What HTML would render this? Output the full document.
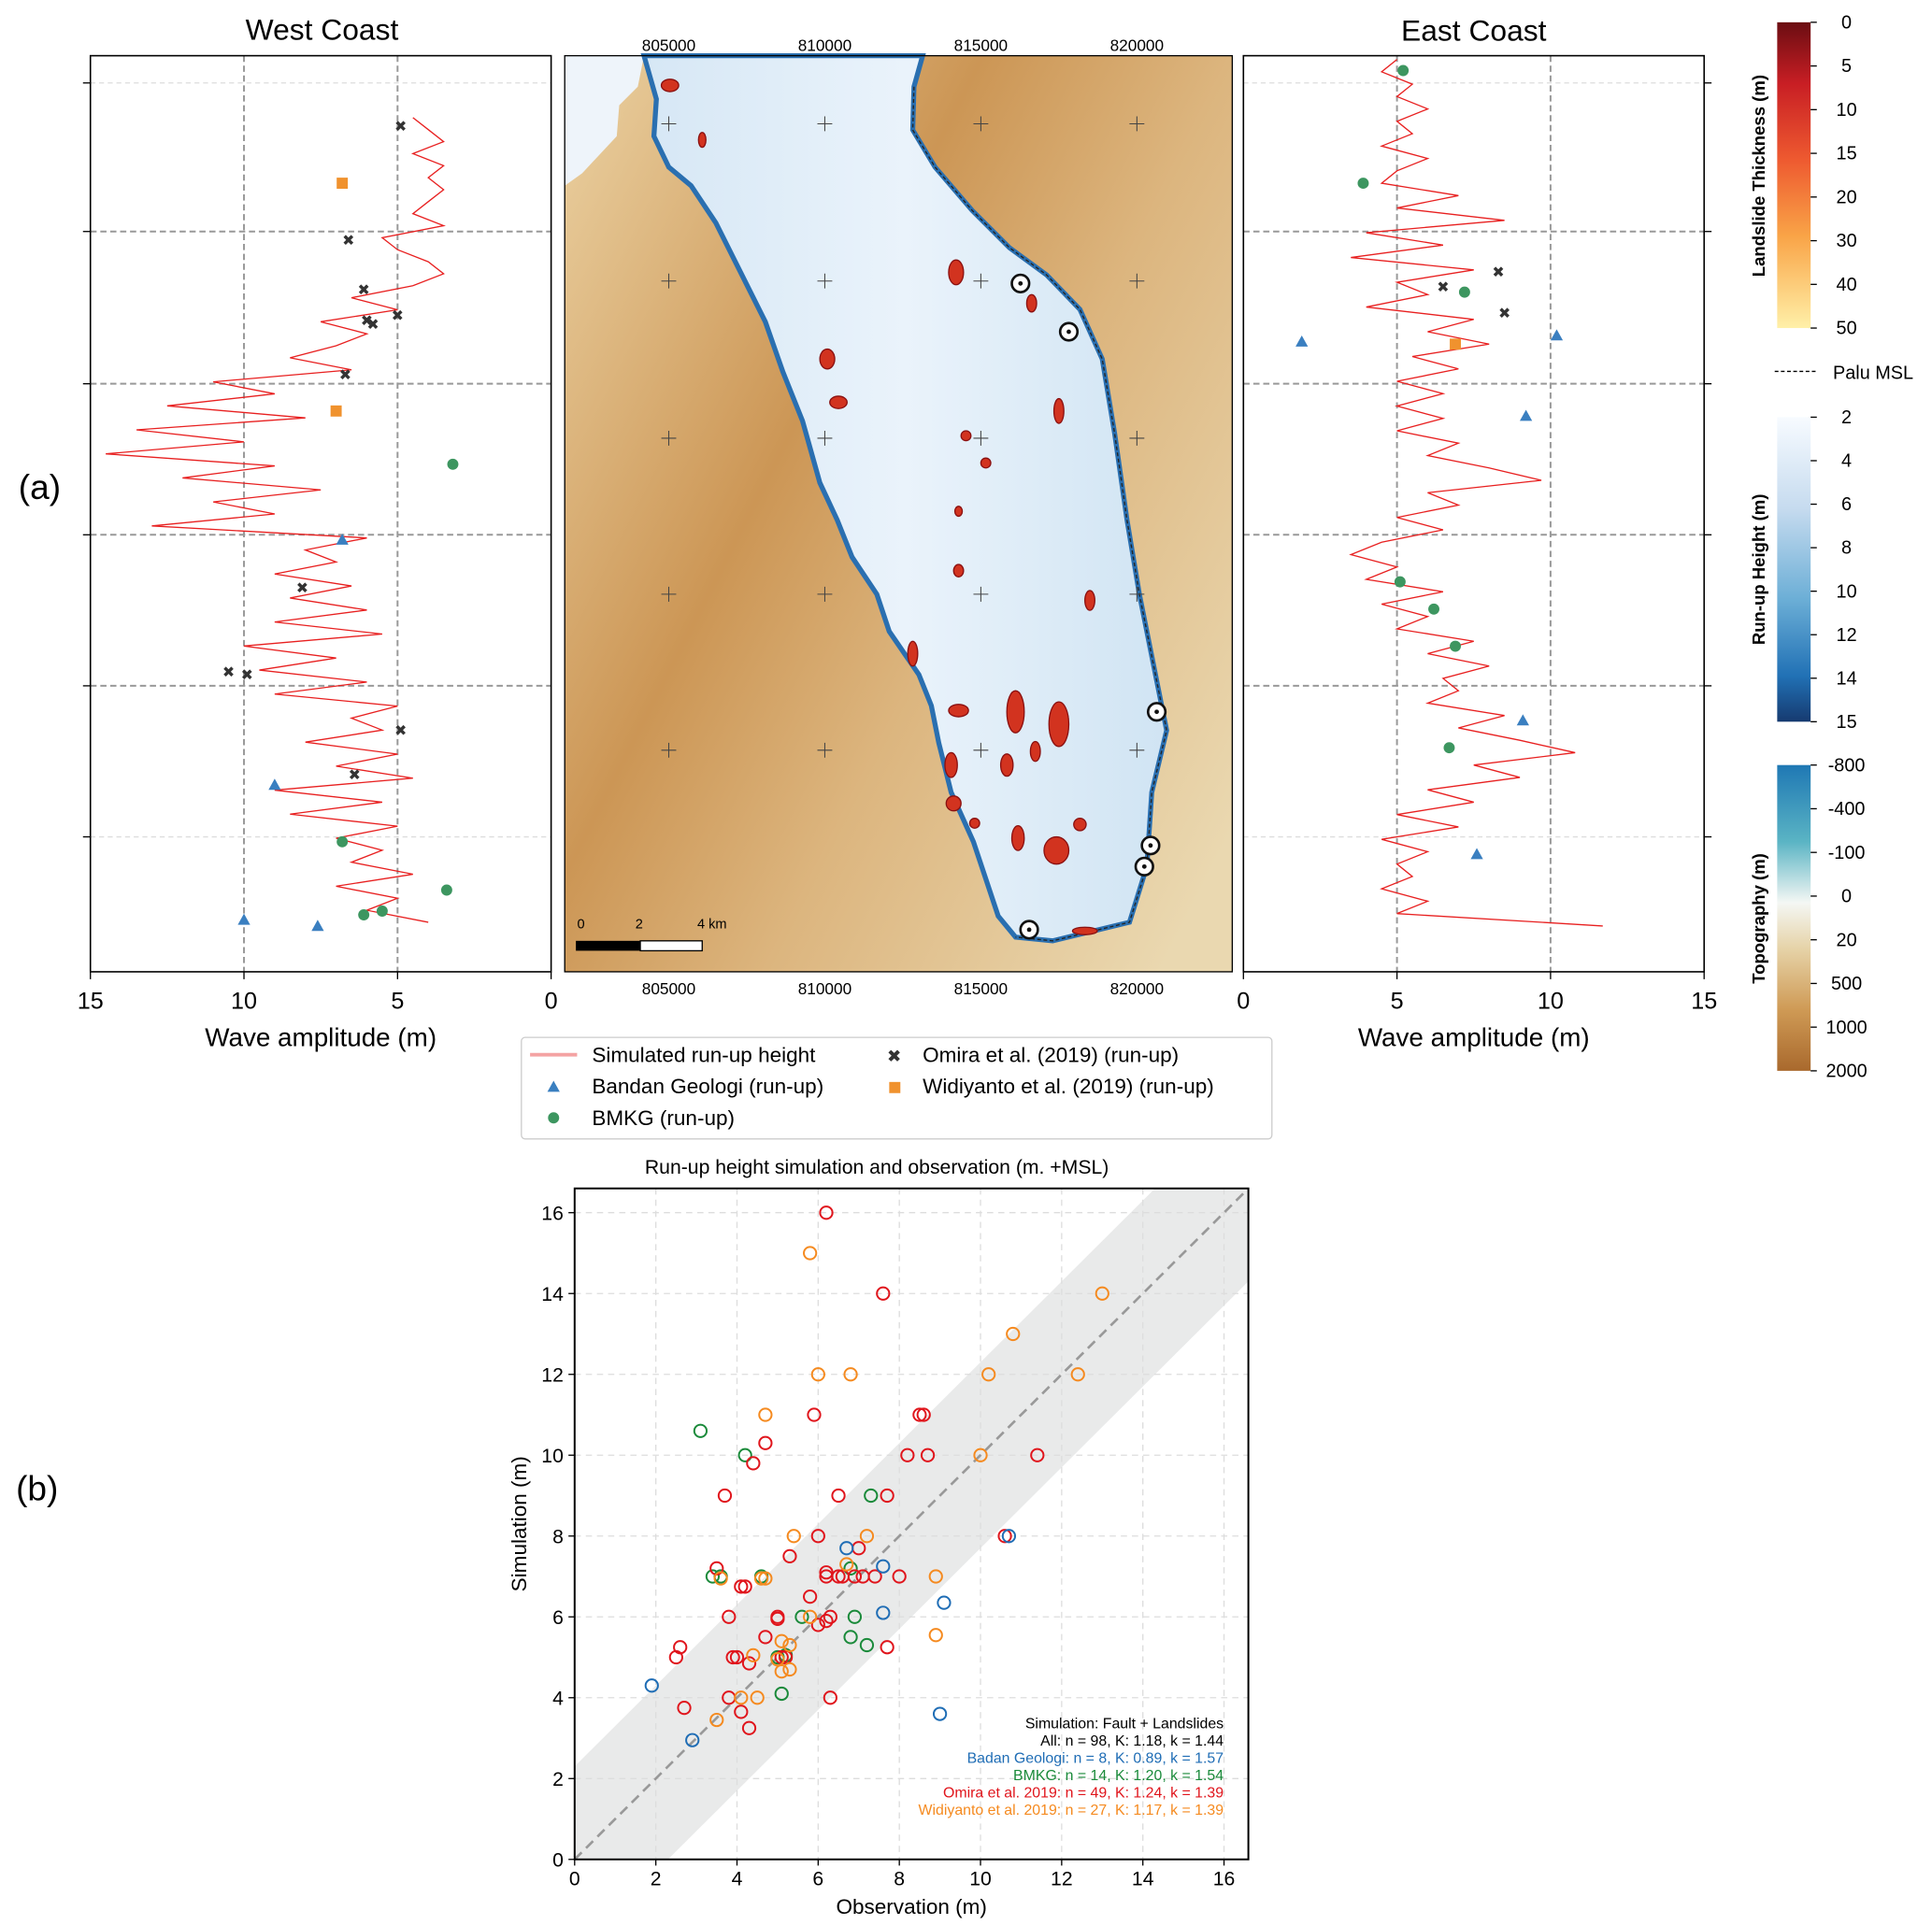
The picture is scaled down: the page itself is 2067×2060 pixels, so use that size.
<!DOCTYPE html>
<html><head><meta charset="utf-8"><style>
html,body{margin:0;padding:0;background:#fff;}
svg{display:block;font-family:"Liberation Sans","DejaVu Sans",sans-serif;}
</style></head><body>
<svg id="fig" width="2067" height="2060" viewBox="0 0 1560 1555" preserveAspectRatio="none" xmlns="http://www.w3.org/2000/svg">
<defs>
<linearGradient id="gLand" x1="0" y1="0" x2="0" y2="1"><stop offset="0" stop-color="#6b0d12"/><stop offset="0.2" stop-color="#c81e24"/><stop offset="0.45" stop-color="#ee5a30"/><stop offset="0.7" stop-color="#f9a447"/><stop offset="1" stop-color="#fff0a8"/></linearGradient>
<linearGradient id="gRun" x1="0" y1="0" x2="0" y2="1"><stop offset="0" stop-color="#f7fbff"/><stop offset="0.3" stop-color="#c6dbef"/><stop offset="0.6" stop-color="#6baed6"/><stop offset="0.85" stop-color="#2171b5"/><stop offset="1" stop-color="#163a70"/></linearGradient>
<linearGradient id="gTopo" x1="0" y1="0" x2="0" y2="1"><stop offset="0" stop-color="#1f78b4"/><stop offset="0.25" stop-color="#5ab4c4"/><stop offset="0.45" stop-color="#f4f7f4"/><stop offset="0.6" stop-color="#e6d3a8"/><stop offset="0.8" stop-color="#cf9a55"/><stop offset="1" stop-color="#a9692d"/></linearGradient>
<linearGradient id="gMap" x1="0" y1="0.15" x2="1" y2="0.85"><stop offset="0" stop-color="#e6c896"/><stop offset="0.35" stop-color="#cc9655"/><stop offset="0.6" stop-color="#dcb57e"/><stop offset="1" stop-color="#ead8b0"/></linearGradient>
<linearGradient id="gSea" x1="0" y1="0" x2="1" y2="0"><stop offset="0" stop-color="#d6e7f5"/><stop offset="0.5" stop-color="#eaf3fb"/><stop offset="1" stop-color="#d0e4f3"/></linearGradient>
</defs>

<!-- Titles -->
<text x="260" y="32" font-size="24" text-anchor="middle">West Coast</text>
<text x="1190" y="33" font-size="24" text-anchor="middle">East Coast</text>
<text x="32" y="403" font-size="28" text-anchor="middle">(a)</text>
<text x="30" y="1212" font-size="28" text-anchor="middle">(b)</text>

<g id="west"></g>
<g id="east"></g>

<!-- Map -->
<g>
<rect x="456" y="45" width="539" height="740" fill="url(#gMap)"/>
<polygon points="456,45 520,45 515,70 500,85 498,110 470,140 456,150" fill="#eef4fa"/>
<polygon points="520,45 745,45 738,70 737,105 755,135 785,170 815,200 845,222 872,250 890,290 900,350 910,420 920,480 932,540 942,590 930,640 926,700 912,745 850,760 820,757 806,740 796,710 786,680 768,640 758,600 752,570 742,545 718,510 708,480 688,450 676,420 662,390 648,340 632,300 618,260 598,220 578,180 558,150 540,135 528,110 530,80" fill="url(#gSea)" stroke="#2a6fb0" stroke-width="4"/>
<polyline points="738,70 737,105 755,135 785,170 815,200 845,222 872,250 890,290 900,350 910,420 920,480 932,540 942,590 930,640 926,700 912,745 850,760 820,757" fill="none" stroke="#222" stroke-width="1" stroke-dasharray="3,2"/>
<g fill="#d2331f" stroke="#8a1010" stroke-width="1">
<ellipse cx="541" cy="69" rx="7" ry="5"/><ellipse cx="567" cy="113" rx="3" ry="6"/><ellipse cx="668" cy="290" rx="6" ry="8"/><ellipse cx="677" cy="325" rx="7" ry="5"/><ellipse cx="780" cy="352" rx="4" ry="4"/><ellipse cx="796" cy="374" rx="4" ry="4"/><ellipse cx="774" cy="413" rx="3" ry="4"/><ellipse cx="774" cy="461" rx="4" ry="5"/><ellipse cx="772" cy="220" rx="6" ry="10"/><ellipse cx="833" cy="245" rx="4" ry="7"/><ellipse cx="855" cy="332" rx="4" ry="10"/><ellipse cx="880" cy="485" rx="4" ry="8"/><ellipse cx="737" cy="528" rx="4" ry="10"/><ellipse cx="774" cy="574" rx="8" ry="5"/><ellipse cx="820" cy="575" rx="7" ry="17"/><ellipse cx="855" cy="585" rx="8" ry="18"/><ellipse cx="813" cy="618" rx="5" ry="9"/><ellipse cx="836" cy="607" rx="4" ry="8"/><ellipse cx="768" cy="618" rx="5" ry="10"/><ellipse cx="770" cy="649" rx="6" ry="6"/><ellipse cx="822" cy="677" rx="5" ry="10"/><ellipse cx="853" cy="687" rx="10" ry="11"/><ellipse cx="872" cy="666" rx="5" ry="5"/><ellipse cx="787" cy="665" rx="4" ry="4"/><ellipse cx="876" cy="752" rx="10" ry="3"/>
</g>
<g stroke="#444" stroke-width="0.8">
<path d="M534,100h12M540,94v12M660,100h12M666,94v12M786,100h12M792,94v12M912,100h12M918,94v12"/>
<path d="M534,227h12M540,221v12M660,227h12M666,221v12M786,227h12M792,221v12M912,227h12M918,221v12"/>
<path d="M534,354h12M540,348v12M660,354h12M666,348v12M786,354h12M792,348v12M912,354h12M918,348v12"/>
<path d="M534,480h12M540,474v12M660,480h12M666,474v12M786,480h12M792,474v12M912,480h12M918,474v12"/>
<path d="M534,606h12M540,600v12M660,606h12M666,600v12M786,606h12M792,600v12M912,606h12M918,600v12"/>
</g>
<g id="gauges" fill="#fff" stroke="#111" stroke-width="2"></g>
<rect x="465" y="760" width="52" height="8" fill="#000"/><rect x="517" y="760" width="50" height="8" fill="#fff" stroke="#000"/>
<text x="466" y="750" font-size="11">0</text><text x="513" y="750" font-size="11">2</text><text x="563" y="750" font-size="11">4 km</text>
<rect x="456" y="45" width="539" height="740" fill="none" stroke="#000"/>
<g font-size="13" text-anchor="middle">
<text x="540" y="41">805000</text><text x="666" y="41">810000</text><text x="792" y="41">815000</text><text x="918" y="41">820000</text>
<text x="540" y="803">805000</text><text x="666" y="803">810000</text><text x="792" y="803">815000</text><text x="918" y="803">820000</text>
</g>
</g>

<!-- Colorbars -->
<g font-size="14">
<rect x="1435" y="18" width="27" height="247" fill="url(#gLand)"/>
<rect x="1435" y="337" width="27" height="246" fill="url(#gRun)"/>
<rect x="1435" y="618" width="27" height="247" fill="url(#gTopo)"/>
<g id="cbticks"></g>
<text transform="translate(1425,142) rotate(-90)" text-anchor="middle" font-weight="bold" font-size="14">Landslide Thickness (m)</text>
<text transform="translate(1425,460) rotate(-90)" text-anchor="middle" font-weight="bold" font-size="14">Run-up Height (m)</text>
<text transform="translate(1425,742) rotate(-90)" text-anchor="middle" font-weight="bold" font-size="14">Topography (m)</text>
<line x1="1433" y1="300" x2="1468" y2="300" stroke="#000" stroke-dasharray="3,2"/>
<text x="1480" y="306" font-size="15">Palu MSL</text>
</g>

<!-- Legend -->
<g font-size="17">
<rect x="421" y="838" width="606" height="82" fill="#fff" stroke="#ccc" rx="3"/>
<line x1="428" y1="852" x2="466" y2="852" stroke="#f4a3a3" stroke-width="3"/><text x="478" y="858">Simulated run-up height</text>
<polygon points="447,873 452,882 442,882" fill="#3a7fc0"/><text x="478" y="883">Bandan Geologi (run-up)</text>
<circle cx="447" cy="903" r="4.5" fill="#3d9660"/><text x="478" y="909">BMKG (run-up)</text>
<text x="722" y="858" font-size="14" text-anchor="middle" font-weight="bold" fill="#333">✖</text><text x="745" y="858">Omira et al. (2019) (run-up)</text>
<rect x="718" y="874" width="9" height="9" fill="#f0922e"/><text x="745" y="883">Widiyanto et al. (2019) (run-up)</text>
</g>

<!-- Scatter -->
<g id="scatter"></g>

<script>
var NS="http://www.w3.org/2000/svg";
function el(t,a,p){var e=document.createElementNS(NS,t);for(var k in a)e.setAttribute(k,a[k]);p.appendChild(e);return e;}

// ---- profile data ----
var westAmp=[4.5,4,3.5,4.5,3.5,4,3.5,4,4.5,3.5,5.5,5,4,3.5,4.5,6.5,5,7.5,6,7,8.5,6.5,11,9,12.5,8,13.5,10,14.5,9,12,7.5,11,9,13,6,8,7,9,6.5,8.5,6,9,5.5,10,7,9.5,6,9,5,6.5,5.5,8,5,7,4.5,9,5.5,8.5,5,7,5.5,6.5,4.5,7,5,6,4];
var eastAmp=[5,4.5,5.5,5,6,5,5.5,4.5,6,5,4.5,7,5,8.5,4,6.5,3.5,7.5,5,6,4,7.5,6,8,5.5,7,5,6.5,5,6.5,5,7,6,8,9.7,6,7,5,6.5,4.5,3.5,5,4,6.5,4.5,6,5,7.5,6,8,6.5,7,6,8.5,7,9,10.8,7.5,9,6,7.5,5,7,4.5,6,5,5.5,4.5,6,5,11.7];
var westOmira=[[4.9,101],[6.6,193],[6.1,233],[6,258],[5.8,261],[5,254],[6.7,302],[8.1,474],[10.5,542],[9.9,544],[4.9,589],[6.4,625]];
var westWidi=[[6.8,148],[7,332]];
var westBMKG=[[3.2,375],[6.8,680],[3.4,719],[5.5,736],[6.1,739]];
var westBG=[[6.8,436],[9,634],[10,743],[7.6,748]];
var eastOmira=[[8.3,219],[6.5,231],[8.5,252]];
var eastWidi=[[6.9,278]];
var eastBMKG=[[5.2,57],[3.9,148],[7.2,236],[5.1,470],[6.2,492],[6.9,522],[6.7,604]];
var eastBG=[[1.9,276],[10.2,271],[9.2,336],[9.1,582],[7.6,690]];
var ampTicks=[0,5,10,15];

function profile(g,x0,x1,reversed,amp,y0,y1,om,wi,bm,bg){
  var sx=function(v){return reversed? x1-(v/15)*(x1-x0) : x0+(v/15)*(x1-x0);};
  var top=45,bot=785;
  [67,676].forEach(function(y){el('line',{x1:x0,x2:x1,y1:y,y2:y,stroke:'#ddd','stroke-dasharray':'4,3'},g);});
  [187,310,432,554].forEach(function(y){el('line',{x1:x0,x2:x1,y1:y,y2:y,stroke:'#999','stroke-dasharray':'5,3','stroke-width':1.5},g);});
  [5,10].forEach(function(v){el('line',{x1:sx(v),x2:sx(v),y1:top,y2:bot,stroke:'#999','stroke-dasharray':'5,3','stroke-width':1.5},g);});
  var pts=amp.map(function(v,i){return sx(v)+','+(y0+i*(y1-y0)/(amp.length-1));}).join(' ');
  var pl=el('polyline',{points:pts,fill:'none',stroke:'#e82020','stroke-width':1},g);
  
  
  om.forEach(function(p){var t=el('text',{x:sx(p[0]),y:p[1]+5,'font-size':12,'text-anchor':'middle',fill:'#333','font-weight':'bold'},g);t.textContent='✖';
    
    });
  wi.forEach(function(p){var r=el('rect',{x:sx(p[0])-4.5,y:p[1]-4.5,width:9,height:9,fill:'#f0922e'},g);
    
    });
  bm.forEach(function(p){var c=el('circle',{cx:sx(p[0]),cy:p[1],r:4.5,fill:'#3d9660'},g);
    
    });
  bg.forEach(function(p){var x=sx(p[0]),y=p[1];var q=el('polygon',{points:x+','+(y-5)+' '+(x+5)+','+(y+4)+' '+(x-5)+','+(y+4),fill:'#3a7fc0'},g);
    
    });
  el('rect',{x:x0,y:top,width:x1-x0,height:bot-top,fill:'none',stroke:'#000','stroke-width':1.2},g);
  [67,187,310,432,554,676].forEach(function(y){el('line',{x1:reversed?x0-6:x1,x2:reversed?x0:x1+6,y1:y,y2:y,stroke:'#000'},g);});
  ampTicks.forEach(function(v){el('line',{x1:sx(v),x2:sx(v),y1:bot,y2:bot+6,stroke:'#000'},g);
    var t=el('text',{x:sx(v),y:815,'font-size':19,'text-anchor':'middle'},g);t.textContent=v;});
  var xl=el('text',{x:(x0+x1)/2,y:845,'font-size':21,'text-anchor':'middle'},g);xl.textContent='Wave amplitude (m)';
  
  
}
profile(document.getElementById('west'),73,445,true,westAmp,95,745,westOmira,westWidi,westBMKG,westBG);
profile(document.getElementById('east'),1004,1376,false,eastAmp,48,748,eastOmira,eastWidi,eastBMKG,eastBG);

// gauges
var gaugePts=[[824,229],[863,268],[934,575],[929,683],[924,700],[831,751]];
var gg=document.getElementById('gauges');
gaugePts.forEach(function(p){var c=el('circle',{cx:p[0],cy:p[1],r:7},gg);
  
  
  el('circle',{cx:p[0],cy:p[1],r:1.8,fill:'#111',stroke:'none'},gg);});

// colorbar ticks
var cbLand=['0','5','10','15','20','30','40','50'];
var cbRun=['2','4','6','8','10','12','14','15'];
var cbTopo=['-800','-400','-100','0','20','500','1000','2000'];
var cbt=document.getElementById('cbticks');
[[cbLand,18,265],[cbRun,337,583],[cbTopo,618,865]].forEach(function(s){
  s[0].forEach(function(l,i){var y=s[1]+i*(s[2]-s[1])/(s[0].length-1);
    el('line',{x1:1462,x2:1467,y1:y,y2:y,stroke:'#000'},cbt);
    var t=el('text',{x:1491,y:y+5,'font-size':15,'text-anchor':'middle'},cbt);t.textContent=l;});
});

// ---- scatter data ----
var bgObs=[1.9,2.9,6.7,7.6,7.6,9.1,9.0,10.7];
var bgSim=[4.3,2.95,7.7,7.25,6.1,6.35,3.6,8.0];
var bmObs=[3.1,4.2,3.4,7.3,5.6,6.8,6.9,7.2,5.1,5.0,6.8,5.2,4.6,3.6];
var bmSim=[10.6,10.0,7.0,9.0,6.0,5.5,6.0,5.3,4.1,5.0,7.2,5.05,7.0,7.0];
var omObs=[6.2,7.6,5.9,8.5,8.6,4.7,4.4,8.2,8.7,11.4,3.7,6.5,7.7,6.0,10.6,7.0,5.3,3.5,4.1,4.2,6.2,6.2,6.5,6.6,6.9,7.1,7.4,8.0,3.8,5.0,5.0,5.8,6.0,6.2,6.3,4.7,7.7,2.6,2.5,3.9,4.0,4.3,5.1,5.2,3.8,6.3,2.7,4.1,4.3];
var omSim=[16,14,11,11,11,10.3,9.8,10,10,10,9,9,9,8,8,7.7,7.5,7.2,6.75,6.75,7.0,7.1,7.0,7.0,7.0,7.0,7.0,7.0,6.0,6.0,5.95,6.5,5.8,5.9,6.0,5.5,5.25,5.25,5.0,5.0,5.0,4.85,5.0,5.0,4.0,4.0,3.75,3.65,3.25];
var wiObs=[5.8,13.0,10.8,6.0,6.8,10.2,12.4,4.7,10.0,5.4,7.2,3.6,4.6,4.7,8.9,6.7,5.8,5.1,5.3,4.4,5.0,5.1,5.3,8.9,4.1,4.5,3.5];
var wiSim=[15,14,13,12,12,12,12,11,10,8,8,6.95,6.95,6.95,7.0,7.3,6.0,5.4,5.3,5.05,4.95,4.65,4.7,5.55,4.0,4.0,3.45];
var xTicks=[0,2,4,6,8,10,12,14,16];
var yTicks=[0,2,4,6,8,10,12,14,16];

(function(){
  var g=document.getElementById('scatter');
  var L=464,R=1008,T=960,B=1502,max=16.6;
  var sx=function(v){return L+v/max*(R-L);}, sy=function(v){return B-v/max*(B-T);};
  var cp=el('clipPath',{id:'scClip'},g);el('rect',{x:L,y:T,width:R-L,height:B-T},cp);
  var band=el('polygon',{points:sx(0)+','+sy(2.3)+' '+sx(max-2.3)+','+sy(max)+' '+sx(max)+','+sy(max)+' '+sx(max)+','+sy(max-2.3)+' '+sx(2.3)+','+sy(0)+' '+sx(0)+','+sy(0),fill:'#e9eaea','clip-path':'url(#scClip)'},g);
  
  
  xTicks.forEach(function(v){el('line',{x1:sx(v),x2:sx(v),y1:T,y2:B,stroke:'#ddd','stroke-dasharray':'5,4'},g);
    el('line',{x1:sx(v),x2:sx(v),y1:B,y2:B+5,stroke:'#000'},g);
    var t=el('text',{x:sx(v),y:B+21,'font-size':16,'text-anchor':'middle'},g);t.textContent=v;});
  yTicks.forEach(function(v){el('line',{x1:L,x2:R,y1:sy(v),y2:sy(v),stroke:'#ddd','stroke-dasharray':'5,4'},g);
    el('line',{x1:L-5,x2:L,y1:sy(v),y2:sy(v),stroke:'#000'},g);
    var t=el('text',{x:L-9,y:sy(v)+6,'font-size':16,'text-anchor':'end'},g);t.textContent=v;});
  el('line',{x1:sx(0),y1:sy(0),x2:sx(max),y2:sy(max),stroke:'#999','stroke-width':2,'stroke-dasharray':'8,5'},g);
  function pts(xs,ys,col,name){xs.forEach(function(x,i){var c=el('circle',{cx:sx(x),cy:sy(ys[i]),r:5,fill:'none',stroke:col,'stroke-width':1.5},g);
    
    });}
  pts(bmObs,bmSim,'#1a8a3a','bmkg-point');
  pts(omObs,omSim,'#e0151c','omira-point');
  pts(wiObs,wiSim,'#f58a1f','widiyanto-point');
  pts(bgObs,bgSim,'#1f6db5','badan-geologi-point');
  el('rect',{x:L,y:T,width:R-L,height:B-T,fill:'none',stroke:'#000','stroke-width':1.5},g);
  var tt=el('text',{x:(L+R)/2-28,y:948,'font-size':16,'text-anchor':'middle'},g);tt.textContent='Run-up height simulation and observation (m. +MSL)';
  var xt=el('text',{x:(L+R)/2,y:1546,'font-size':17,'text-anchor':'middle'},g);xt.textContent='Observation (m)';
  
  
  var yt=el('text',{transform:'translate(425,1231) rotate(-90)','font-size':17,'text-anchor':'middle'},g);yt.textContent='Simulation (m)';
  
  
  var ann=[['Simulation: Fault + Landslides','#000'],['All: n = 98, K: 1.18, k = 1.44','#000'],['Badan Geologi: n = 8, K: 0.89, k = 1.57','#1f6db5'],['BMKG: n = 14, K: 1.20, k = 1.54','#1a8a3a'],['Omira et al. 2019: n = 49, K: 1.24, k = 1.39','#e0151c'],['Widiyanto et al. 2019: n = 27, K: 1.17, k = 1.39','#f58a1f']];
  ann.forEach(function(a,i){var t=el('text',{x:988,y:1396+i*14,'font-size':12,'text-anchor':'end',fill:a[1]},g);t.textContent=a[0];});
})();
</script>
</svg>
</body></html>
